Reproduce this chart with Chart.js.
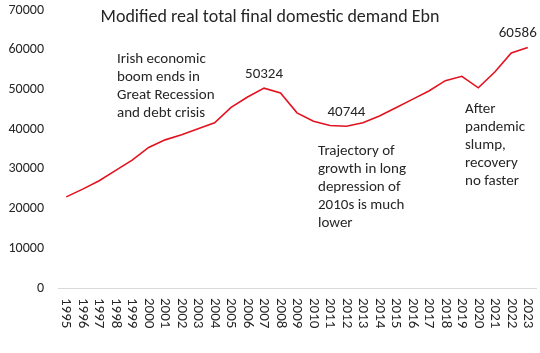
<!DOCTYPE html>
<html>
<head>
<meta charset="utf-8">
<script src="https://cdn.jsdelivr.net/npm/chart.js@4.4.1/dist/chart.umd.min.js"></script>
<style>
  html, body { margin: 0; padding: 0; background: #fff; }
  #wrap { width: 540px; height: 353px; position: relative; }
</style>
</head>
<body>
<div id="wrap"><canvas id="chart"></canvas></div>
<script>
// Data
const years = ['1995', '1996', '1997', '1998', '1999', '2000', '2001', '2002', '2003', '2004',
               '2005', '2006', '2007', '2008', '2009', '2010', '2011', '2012', '2013', '2014',
               '2015', '2016', '2017', '2018', '2019', '2020', '2021', '2022', '2023'];
const demand = [22950, 24900, 27000, 29600, 32200, 35400, 37300, 38600, 40100, 41600,
                45500, 48100, 50324, 49100, 44100, 42000, 40900, 40744, 41600, 43300,
                45400, 47500, 49600, 52200, 53300, 50400, 54400, 59200, 60586];
const yTicks = [0, 10000, 20000, 30000, 40000, 50000, 60000, 70000];

const chartTitle = 'Modified real total final domestic demand Ebn';
const labelledYears = ['2007', '2012', '2023'];
const noteBoom = ['Irish economic', 'boom ends in', 'Great Recession', 'and debt crisis'];
const noteDepression = ['Trajectory of', 'growth in long', 'depression of', '2010s is much', 'lower'];
const notePandemic = ['After', 'pandemic', 'slump,', 'recovery', 'no faster'];

const FONT = 'Carlito, Lato, "Open Sans", sans-serif';
const TEXT = '#262626';

// x labels are rotated clockwise, so draw them here; also title, value labels, notes
const textPlugin = {
    id: 'texts',
    afterDraw(chart) {
        const ctx = chart.ctx;
        const x = chart.scales.x;
        const y = chart.scales.y;
        ctx.save();
        ctx.fillStyle = TEXT;

        // rotated year labels
        ctx.font = '15px ' + FONT;
        ctx.textAlign = 'left';
        ctx.textBaseline = 'middle';
        years.forEach((yr, i) => {
            ctx.save();
            ctx.translate(x.getPixelForTick(i), y.bottom + 10);
            ctx.rotate(Math.PI / 2);
            ctx.fillText(yr, 0, 0);
            ctx.restore();
        });

        // title
        ctx.font = '18px ' + FONT;
        ctx.textAlign = 'center';
        ctx.fillText(chartTitle, 270, 17);

        // value labels above points
        ctx.font = '15px ' + FONT;
        labelledYears.forEach(yr => {
            const i = years.indexOf(yr);
            let px = x.getPixelForValue(i);
            const py = y.getPixelForValue(demand[i]) - 14;
            if (i === years.length - 1) px -= 10;
            ctx.fillText(String(demand[i]), px, py);
        });

        // notes
        ctx.textAlign = 'left';
        const drawNote = (lines, left, top) => {
            lines.forEach((ln, k) => ctx.fillText(ln, left, top + k * 18));
        };
        drawNote(noteBoom, 117, 59);
        drawNote(noteDepression, 318, 151);
        drawNote(notePandemic, 465, 109);
        ctx.restore();
    }
};

new Chart(document.getElementById('chart'), {
    type: 'line',
    data: {
        labels: years,
        datasets: [{
            data: demand,
            borderColor: '#e3121f',
            borderWidth: 1.6,
            pointRadius: 0,
            tension: 0,
            fill: false
        }]
    },
    options: {
        responsive: true,
        maintainAspectRatio: false,
        animation: false,
        layout: { padding: { top: 10, right: 4, left: 0, bottom: 0 } },
        plugins: { legend: { display: false }, tooltip: { enabled: false } },
        scales: {
            x: {
                offset: true,
                grid: { display: false, drawTicks: false },
                border: { display: true, color: '#d9d9d9', width: 1 },
                ticks: { display: false },
                afterFit(scale) { scale.height = 65; }
            },
            y: {
                min: 0,
                max: 70000,
                grid: { display: false, drawTicks: false },
                border: { display: false },
                afterBuildTicks(scale) { scale.ticks = yTicks.map(v => ({ value: v })); },
                ticks: {
                    color: TEXT,
                    padding: 14,
                    font: { family: FONT, size: 14 },
                    callback: v => String(v)
                },
                afterFit(scale) {
                    scale.width = 58;
                    scale.paddingTop = 0;
                    scale.paddingBottom = 0;
                }
            }
        }
    },
    plugins: [textPlugin]
});
</script>
</body>
</html>
